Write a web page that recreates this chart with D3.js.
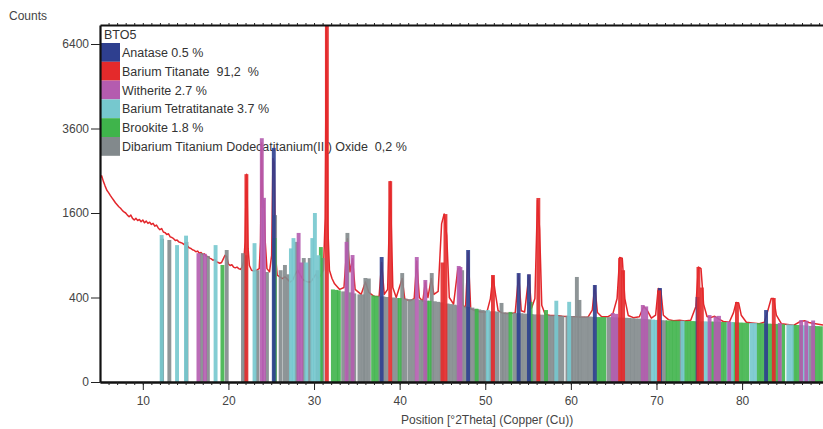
<!DOCTYPE html>
<html>
<head>
<meta charset="utf-8">
<script src="https://cdn.jsdelivr.net/npm/d3@7"></script>
<style>
  body { margin: 0; background: #fff; }
  svg { display: block; font-family: "Liberation Sans", Arial, sans-serif; }
</style>
</head>
<body>
<div id="chart"></div>
<script>
// ---------------------------------------------
// ---------           Data          -----------
// ---------------------------------------------

const sampleName = "BTO5";
const xTicks = [10, 20, 30, 40, 50, 60, 70, 80];
const yTicks = [0, 400, 1600, 3600, 6400];

const phaseNames = [
  "Anatase 0.5 %",
  "Barium Titanate  91,2  %",
  "Witherite 2.7 %",
  "Barium Tetratitanate 3.7 %",
  "Brookite 1.8 %",
  "Dibarium Titanium Dodecatitanium(III) Oxide  0,2 %"
];
const phaseColors = ["#2e3f8f", "#e42a2b", "#b45caf", "#76c8ce", "#3fb44b", "#82898c"];

// measured profile [2theta, counts]
const profile = [
  [5.0,2330],[5.2,2380],[5.4,2250],[5.6,2150],[5.8,2060],[6.0,2010],[6.2,1950],[6.4,1900],[6.6,1850],[6.8,1800],
  [7.0,1760],[7.2,1720],[7.4,1690],[7.6,1650],[7.8,1620],[8.0,1600],[8.2,1560],[8.4,1530],[8.6,1560],[8.8,1500],
  [9.0,1470],[9.2,1500],[9.4,1460],[9.6,1480],[9.8,1440],[10.0,1470],[10.2,1420],[10.4,1450],[10.6,1410],[10.8,1430],
  [11.0,1390],[11.2,1410],[11.4,1360],[11.6,1380],[11.8,1330],[12.0,1300],[12.2,1320],[12.4,1260],[12.6,1250],[12.8,1220],
  [13.0,1230],[13.2,1180],[13.4,1170],[13.6,1150],[13.8,1120],[14.0,1130],[14.2,1100],[14.4,1090],[14.6,1080],[14.8,1060],
  [15.0,1080],[15.2,1040],[15.4,1010],[15.6,1000],[15.8,980],[16.0,970],[16.2,950],[16.4,960],[16.6,930],[16.8,940],
  [17.0,910],[17.2,920],[17.4,890],[17.6,880],[17.8,860],[18.0,850],[18.2,830],[18.4,840],[18.6,810],[18.8,800],
  [19.0,790],[19.2,800],[19.4,850],[19.6,900],[19.8,880],[20.0,780],[20.2,760],[20.4,770],[20.6,740],[20.8,730],
  [21.0,740],[21.2,720],[21.4,710],[21.6,740],[21.8,820],[21.95,1100],[22.05,2000],[22.12,2420],[22.2,1900],[22.3,1000],
  [22.45,760],[22.7,700],[23.0,690],[23.3,700],[23.6,720],[23.75,1100],[23.88,3200],[24.0,1700],[24.15,1850],[24.3,1100],
  [24.5,720],[24.8,680],[25.05,900],[25.2,2800],[25.35,2700],[25.5,900],[25.7,640],[26.0,620],[26.3,600],[26.6,620],
  [26.9,590],[27.2,560],[27.5,580],[27.8,650],[28.1,700],[28.4,640],[28.7,590],[29.0,570],[29.3,560],[29.6,560],
  [29.9,600],[30.2,650],[30.5,600],[30.8,640],[31.1,700],[31.3,1500],[31.45,7800],[31.6,1400],[31.8,700],[32.1,600],
  [32.4,540],[33.0,480],[33.5,500],[33.9,1150],[34.2,680],[34.5,850],[34.8,480],[35.5,430],[36.0,560],[36.4,450],
  [37.0,410],[37.6,410],[37.9,800],[38.2,430],[38.6,480],[38.9,2250],[39.2,500],[39.6,400],[40.3,600],[40.6,385],
  [41.2,370],[41.7,390],[42.0,820],[42.3,400],[42.7,365],[43.0,560],[43.3,400],[43.7,600],[44.0,430],[44.5,460],
  [44.9,1400],[45.2,1580],[45.5,1200],[45.8,400],[46.3,340],[46.8,720],[47.1,720],[47.4,330],[47.7,310],[48.0,950],
  [48.3,300],[48.8,285],[49.5,275],[50.2,275],[50.6,390],[50.9,630],[51.2,430],[51.5,285],[52.0,265],[52.5,262],
  [53.0,262],[53.5,268],[53.9,650],[54.2,285],[54.6,275],[55.1,640],[55.4,305],[55.8,390],[56.1,1850],[56.35,1300],
  [56.6,330],[57.0,255],[57.6,248],[58.3,248],[59.0,243],[59.7,240],[60.5,238],[61.3,235],[62.0,235],[62.5,290],
  [62.8,520],[63.1,270],[63.6,238],[64.3,238],[64.9,260],[65.4,390],[65.7,870],[66.0,860],[66.3,390],[66.7,248],
  [67.3,232],[68.0,238],[68.5,320],[68.9,290],[69.4,228],[69.9,250],[70.2,490],[70.5,480],[70.8,250],[71.4,218],
  [72.0,210],[72.7,213],[73.3,208],[74.0,213],[74.6,320],[74.9,740],[75.2,720],[75.5,340],[75.9,240],[76.3,232],
  [76.8,242],[77.3,222],[77.8,205],[78.5,200],[79.0,270],[79.3,355],[79.6,350],[79.9,250],[80.5,200],[81.2,195],
  [82.0,190],[82.6,200],[83.0,285],[83.4,390],[83.7,390],[84.0,250],[84.6,190],[85.3,185],[86.0,180],[86.8,205],
  [87.3,210],[87.8,198],[88.4,192],[89.45,182]
];

// reference sticks per phase [2theta, counts]
const anataseSticks = [
  [25.3,3070],[37.9,875],[48.0,976],[53.9,665],[55.1,650],[62.8,527],[70.4,495],[74.8,405],[82.8,290]
];
const titanateSticks = [
  [22.1,2420],[31.5,7800],[38.9,2260],[45.0,800],[45.35,1580],[50.9,641],[56.2,1897],[65.75,860],[66.1,700],
  [70.3,470],[74.9,741],[75.3,500],[79.4,358],[83.7,395]
];
const witheriteSticks = [
  [16.5,930],[17.25,920],[23.9,3330],[24.15,1900],[28.2,1245],[28.5,800],[33.8,1100],[34.5,903],[42.0,875],[43.0,583],
  [46.9,754],[47.1,741],[64.9,267],[65.3,260],[68.4,332],[68.8,320],[76.2,251],[76.9,240],[77.3,245],[78.5,205],
  [84.4,195],[86.9,215],[87.5,210],[88.3,212]
];
const tetratitanateSticks = [
  [12.2,1210],[14.0,1050],[15.05,1200],[18.5,1050],[23.05,1080],[27.3,1000],[27.6,1160],[29.1,800],[29.8,1160],
  [30.1,1600],[30.5,900],[50.3,290],[58.3,370],[59.8,360],[69.6,218],[69.9,216],[73.05,210],[75.6,206],[76.0,205],
  [78.4,201],[78.8,200],[81.1,196],[81.5,195],[85.4,186],[85.8,185],[87.2,180],[87.6,178]
];
const brookiteSticks = [
  [19.3,767],[25.4,1160],[30.8,1020],[32.2,480],[32.6,475],[32.9,470],[36.9,420],[37.3,415],[40.0,395],[43.2,370],
  [43.5,370],[49.0,300],[52.95,275],[55.3,360],[57.1,290],[63.1,236],[63.5,236],[63.9,236],[71.3,212],[71.7,212],
  [72.1,211],[72.5,210],[73.4,209],[73.8,208],[74.2,208],[74.6,207],[75.3,206],[76.4,205],[76.8,204],[77.2,203],
  [77.6,202],[78.0,201],[79.0,200],[79.4,199],[79.8,198],[80.2,197],[80.6,196],[81.9,194],[82.3,193],[82.7,192],
  [83.1,191],[83.5,190],[83.9,189],[84.3,188],[84.8,187],[86.1,183],[86.5,182],[86.9,181],[88.4,176],[88.8,175],
  [89.2,174]
];
const dibariumSticks = [
  [12.25,1150],[13.1,1130],[15.1,1100],[16.9,930],[17.6,890],[19.8,976],[21.7,930],[22.0,900],[23.4,700],[24.5,678],
  [25.45,1560],[26.1,700],[26.6,767],[27.0,650],[27.95,1100],[28.8,861],[29.5,861],[30.4,700],[31.0,861],[33.4,460],
  [33.9,1245],[34.3,450],[34.7,440],[35.3,430],[35.7,430],[36.0,606],[36.4,600],[37.7,410],[38.1,410],[38.5,405],
  [39.3,400],[39.7,395],[40.3,665],[40.7,390],[41.2,385],[41.6,385],[42.4,380],[42.8,375],[43.75,665],[44.1,365],
  [44.5,360],[44.9,355],[45.6,345],[46.0,340],[46.4,335],[46.8,330],[47.3,700],[47.7,320],[48.1,315],[48.5,310],
  [48.9,300],[49.3,295],[49.7,290],[50.0,285],[50.6,280],[51.0,280],[51.4,278],[51.9,350],[52.2,272],[52.6,270],
  [53.4,268],[53.8,265],[54.2,265],[54.6,262],[55.0,260],[55.4,258],[55.8,256],[56.2,255],[56.6,254],[57.0,252],
  [57.4,250],[57.8,249],[58.2,248],[58.6,247],[59.0,246],[59.6,245],[60.0,244],[60.3,243],[60.7,618],[61.0,377],
  [61.4,241],[61.8,240],[62.2,240],[62.6,238],[64.4,236],[64.8,235],[65.2,234],[65.6,233],[66.0,232],[66.4,231],
  [66.8,230],[67.2,228],[67.6,226],[68.0,225],[68.4,224],[68.8,222],[69.2,220],[70.2,215],[70.6,214],[71.0,213],
  [72.9,210],[88.0,176]
];

const phaseSticks = [anataseSticks, titanateSticks, witheriteSticks, tetratitanateSticks, brookiteSticks, dibariumSticks];
// gray first, red last
const drawOrder = [5, 4, 3, 2, 0, 1];

// ---------------------------------------------
// ---------         Layout          -----------
// ---------------------------------------------

const W = 823, H = 429;
const plot = {left: 100, right: 823, top: 25, bottom: 382};
const stickWidth = 3.9;

const svg = d3.select("#chart")
  .append("svg")
    .attr("width", W)
    .attr("height", H);

const x = d3.scaleLinear().domain([5, 89.45]).range([plot.left, plot.right]);
const y = d3.scaleSqrt().domain([0, 7140]).range([plot.bottom, plot.top]);

svg.append("clipPath")
    .attr("id", "plotClip")
  .append("rect")
    .attr("x", plot.left)
    .attr("y", plot.top)
    .attr("width", plot.right - plot.left)
    .attr("height", plot.bottom - plot.top);

// ---------------------------------------------
// ---------         Legend          -----------
// ---------------------------------------------

const legend = svg.append("g").attr("font-size", 12.5).attr("fill", "#333");

legend.append("text")
  .attr("x", 104)
  .attr("y", 39)
  .text(sampleName);

const rowH = 18.8;
phaseNames.forEach((name, i) => {
  legend.append("rect")
    .attr("x", 101)
    .attr("y", 43 + i * rowH)
    .attr("width", 19)
    .attr("height", rowH)
    .attr("fill", phaseColors[i]);
  legend.append("text")
    .attr("x", 122)
    .attr("y", 43 + i * rowH + 14)
    .style("white-space", "pre")
    .text(name);
});

// ---------------------------------------------
// ---------       Chart Data        -----------
// ---------------------------------------------

const data = svg.append("g").attr("clip-path", "url(#plotClip)");

// measured pattern
data.append("path")
  .datum(profile)
  .attr("fill", "none")
  .attr("stroke", "#e3262b")
  .attr("stroke-width", 1.5)
  .attr("stroke-linejoin", "round")
  .attr("d", d3.line().x(d => x(d[0])).y(d => y(d[1])));

// phase sticks
drawOrder.forEach(p => {
  data.append("g")
    .selectAll("rect")
    .data(phaseSticks[p])
    .join("rect")
      .attr("x", d => x(d[0]) - stickWidth / 2)
      .attr("y", d => y(d[1]))
      .attr("width", stickWidth)
      .attr("height", d => y(0) - y(d[1]))
      .attr("fill", phaseColors[p])
      .attr("fill-opacity", 0.9);
});

// ---------------------------------------------
// ---------          Axes           -----------
// ---------------------------------------------

svg.append("g")
  .attr("transform", `translate(0,${plot.bottom})`)
  .call(d3.axisBottom(x).tickValues(xTicks).tickSize(8).tickPadding(6).tickSizeOuter(0));

svg.append("g")
  .attr("transform", `translate(0,${plot.bottom})`)
  .call(d3.axisBottom(x).tickValues(d3.range(6, 90)).tickSize(3).tickFormat("").tickSizeOuter(0));

svg.append("g")
  .attr("transform", `translate(0,${plot.top})`)
  .call(d3.axisTop(x).tickValues(d3.range(6, 90)).tickSize(2).tickFormat("").tickSizeOuter(0));

svg.append("g")
  .attr("transform", `translate(${plot.left},0)`)
  .call(d3.axisLeft(y).tickValues(yTicks).tickFormat(d3.format("d")).tickSize(9).tickPadding(2).tickSizeOuter(0));

svg.selectAll(".domain").attr("stroke", "#111").attr("stroke-width", 2.2);
svg.selectAll(".tick line").attr("stroke", "#222");
svg.selectAll(".tick text").attr("fill", "#444").attr("font-size", 12)
  .attr("font-family", "'Liberation Sans', Arial, sans-serif");

// y axis title
svg.append("text")
  .attr("x", 9)
  .attr("y", 20)
  .attr("font-size", 12)
  .attr("fill", "#444")
  .text("Counts");

// x axis title
svg.append("text")
  .attr("x", 401)
  .attr("y", 424)
  .attr("font-size", 12)
  .attr("fill", "#444")
  .text("Position [°2Theta] (Copper (Cu))");
</script>
</body>
</html>
